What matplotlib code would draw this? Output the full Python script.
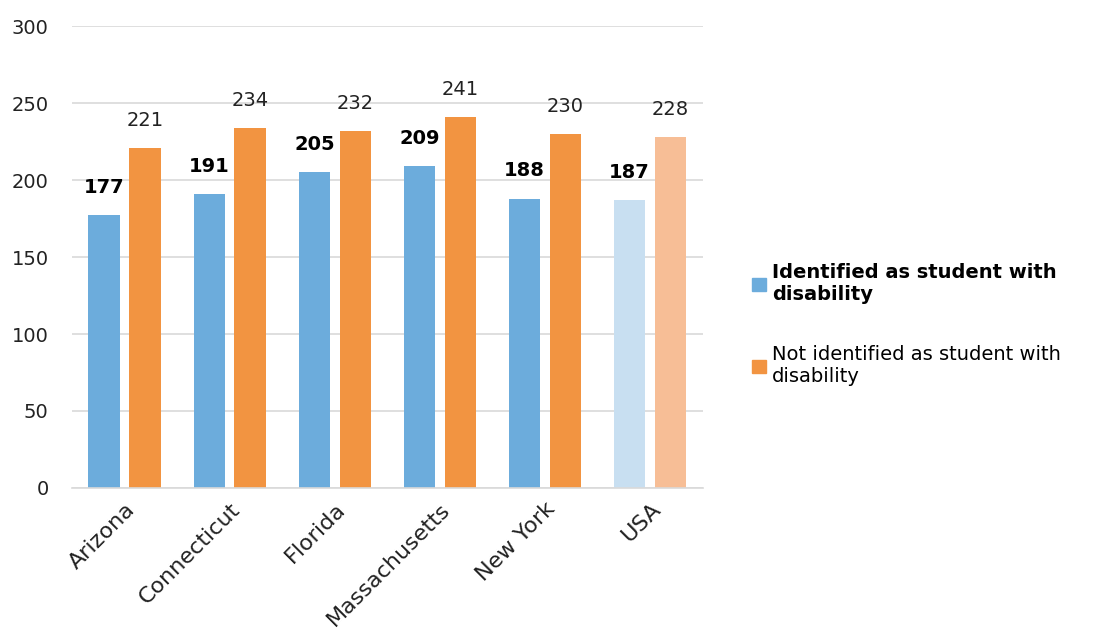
import matplotlib
matplotlib.use('Agg')
import matplotlib.pyplot as plt
import numpy as np

states = ["Arizona", "Connecticut", "Florida", "Massachusetts", "New York", "USA"]
identified = [177, 191, 205, 209, 188, 187]
not_identified = [221, 234, 232, 241, 230, 228]
series_names = ["Identified as student with\ndisability",
                "Not identified as student with\ndisability"]

blue = "#6CACDC"
orange = "#F29441"
blue_light = "#C8DFF1"
orange_light = "#F7BE96"

plt.rcParams['font.family'] = ['DejaVu Sans']

fig = plt.figure(figsize=(11.1, 6.37), dpi=100)
ax = fig.add_axes([0.065, 0.234, 0.568, 0.725])

x = np.arange(len(states))
w = 0.3
off = 0.195
c1 = [blue] * (len(states) - 1) + [blue_light]
c2 = [orange] * (len(states) - 1) + [orange_light]
b1 = ax.bar(x - off, identified, w, color=c1, label=series_names[0], zorder=2)
b2 = ax.bar(x + off, not_identified, w, color=c2, label=series_names[1], zorder=2)

for rect, v in zip(b1, identified):
    ax.annotate(str(v), (rect.get_x() + rect.get_width() / 2, v), xytext=(0, 13),
                textcoords='offset points', ha='center', va='bottom',
                fontsize=14, fontweight='bold', color='black')
for rect, v in zip(b2, not_identified):
    ax.annotate(str(v), (rect.get_x() + rect.get_width() / 2, v), xytext=(0, 13),
                textcoords='offset points', ha='center', va='bottom',
                fontsize=14, color='#222222')

ax.set_ylim(0, 300)
ax.set_xlim(-0.5, len(states) - 0.5)
ax.set_yticks(range(0, 301, 50))
ax.yaxis.grid(True, color='#D9D9D9', linewidth=1.2, zorder=0)
ax.set_axisbelow(True)
for s in ['top', 'right', 'left']:
    ax.spines[s].set_visible(False)
ax.spines['bottom'].set_color('#D9D9D9')
ax.spines['bottom'].set_linewidth(1.2)
ax.tick_params(axis='both', length=0, labelsize=14, labelcolor='#222222')
ax.tick_params(axis='y', pad=17)
ax.tick_params(axis='x', labelsize=16, pad=8)
ax.set_xticks(x)
ax.set_xticklabels(states, rotation=45, ha='right', rotation_mode='anchor')

handles = [plt.Rectangle((0, 0), 1, 1, color=blue), plt.Rectangle((0, 0), 1, 1, color=orange)]
leg = fig.legend(handles, series_names, loc='center left', bbox_to_anchor=(0.662, 0.49),
                 frameon=False, fontsize=14, handlelength=0.7, handleheight=0.7,
                 handletextpad=0.3, labelspacing=2.1)
leg.get_texts()[0].set_fontweight('bold')

plt.savefig("out.png")
